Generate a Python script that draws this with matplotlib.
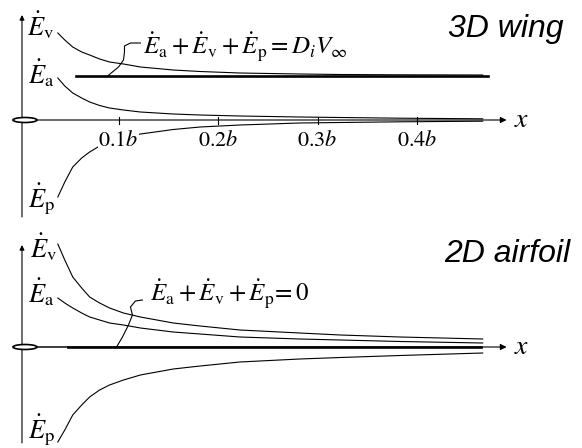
import matplotlib
matplotlib.use("Agg")
import matplotlib.pyplot as plt
from matplotlib.patches import Ellipse

plt.rcParams['mathtext.fontset'] = 'stix'
plt.rcParams['font.family'] = 'Liberation Serif'

# distance behind the wing, in units of span b
x_b = [0.039, 0.046, 0.054, 0.063, 0.071, 0.081, 0.091, 0.105, 0.122,
       0.155, 0.182, 0.222, 0.282, 0.323, 0.383, 0.466]

# 3D wing (arbitrary energy-flux units)
wing_Ev = [0.87, 0.80, 0.73, 0.68, 0.65, 0.61, 0.58, 0.56, 0.53,
           0.50, 0.485, 0.47, 0.46, 0.455, 0.452, 0.45]
wing_Ea = [0.42, 0.34, 0.27, 0.22, 0.18, 0.145, 0.12, 0.10, 0.08,
           0.06, 0.05, 0.04, 0.03, 0.025, 0.018, 0.012]
wing_Ep = [-0.77, -0.62, -0.47, -0.38, -0.32, -0.26, -0.22, -0.18, -0.14,
           -0.095, -0.07, -0.05, -0.03, -0.025, -0.018, -0.012]
wing_sum = 0.445
wing_sum_x = [0.057, 0.471]

# 2D airfoil
foil_Ev = [1.03, 0.87, 0.70, 0.59, 0.50, 0.44, 0.39, 0.34, 0.30,
           0.24, 0.21, 0.17, 0.14, 0.12, 0.10, 0.08]
foil_Ea = [0.49, 0.44, 0.39, 0.34, 0.30, 0.27, 0.24, 0.22, 0.19,
           0.15, 0.13, 0.10, 0.08, 0.07, 0.055, 0.04]
foil_Ep = [-0.95, -0.83, -0.68, -0.58, -0.50, -0.43, -0.38, -0.33, -0.28,
           -0.22, -0.19, -0.15, -0.12, -0.105, -0.085, -0.06]
foil_sum = 0.0
foil_sum_x = [0.049, 0.464]

tick_vals = [0.1, 0.2, 0.3, 0.4]
tick_labels = ['$0.1b$', '$0.2b$', '$0.3b$', '$0.4b$']

# leader lines from the equation label to the sum line
lead_wing_x = [0.122, 0.112, 0.106, 0.106, 0.105, 0.100, 0.089]
lead_wing_y = [0.77, 0.77, 0.74, 0.68, 0.60, 0.53, 0.44]
lead_foil_x = [0.124, 0.117, 0.112, 0.114, 0.110, 0.104, 0.098]
lead_foil_y = [0.47, 0.46, 0.40, 0.32, 0.22, 0.10, 0.0]

fig = plt.figure(figsize=(5.82, 4.48), dpi=100)
ax1 = fig.add_axes([0, 0.5, 1, 0.5])
ax2 = fig.add_axes([0, 0, 1, 0.5])
ax1.set_xlim(-0.0191, 0.5658)
ax1.set_ylim(-1.04, 1.20)
ax2.set_xlim(-0.0191, 0.5658)
ax2.set_ylim(-1.01, 1.23)

x0 = 0.003
lab = dict(fontsize=19, ha='left', va='baseline')
eq = dict(fontsize=18, ha='left', va='baseline')


def frame(ax, ytop, ybot):
    ax.axis('off')
    # x axis with arrow
    ax.annotate('', xy=(0.49, 0), xytext=(-0.006, 0),
                arrowprops=dict(arrowstyle='-|>', lw=0.8, color='k',
                                mutation_scale=9, shrinkA=0, shrinkB=0))
    # y axis with arrow
    ax.annotate('', xy=(x0, ytop), xytext=(x0, ybot),
                arrowprops=dict(arrowstyle='-|>', lw=0.8, color='k',
                                mutation_scale=7, shrinkA=0, shrinkB=0))
    ax.add_patch(Ellipse((0.006, 0), 0.024, 0.05, facecolor='white',
                         edgecolor='k', lw=1.2, zorder=5))
    ax.text(0.505, 0, '$x$', fontsize=20, ha='center', va='center')


frame(ax1, 1.05, -0.97)
frame(ax2, 1.02, -0.96)

# --- 3D wing ---
ax1.plot(x_b, wing_Ev, color='k', lw=0.8)
ax1.plot(x_b, wing_Ea, color='k', lw=0.8)
ax1.plot(x_b, wing_Ep, color='k', lw=0.8)
ax1.plot(wing_sum_x, [wing_sum, wing_sum], color='k', lw=1.9)
ax1.plot(lead_wing_x, lead_wing_y, color='k', lw=0.8)
for t, s in zip(tick_vals, tick_labels):
    ax1.plot([t, t], [-0.035, 0.035], color='k', lw=0.8)
    ax1.text(t, -0.21, s, fontsize=16, ha='center', va='center', zorder=4,
             bbox=dict(facecolor='white', edgecolor='none', pad=0.5))
ax1.text(0.008, 0.85, r'$\dot{E}_{\mathrm{v}}$', **lab)
ax1.text(0.009, 0.37, r'$\dot{E}_{\mathrm{a}}$', **lab)
ax1.text(0.009, -0.87, r'$\dot{E}_{\mathrm{p}}$', **lab)
ax1.text(0.125, 0.65,
         r'$\dot{E}_{\mathrm{a}}+\dot{E}_{\mathrm{v}}+\dot{E}_{\mathrm{p}} = D_i V_\infty$',
         **eq)
ax1.text(0.547, 0.83, '3D wing', fontsize=23, family='Liberation Sans',
         style='italic', ha='right', va='baseline')

# --- 2D airfoil ---
ax2.plot(x_b, foil_Ev, color='k', lw=0.8)
ax2.plot(x_b, foil_Ea, color='k', lw=0.8)
ax2.plot(x_b, foil_Ep, color='k', lw=0.8)
ax2.plot([0.018, foil_sum_x[0]], [foil_sum, foil_sum], color='0.5', lw=1.2)
ax2.plot(foil_sum_x, [foil_sum, foil_sum], color='k', lw=1.9)
ax2.plot(lead_foil_x, lead_foil_y, color='k', lw=0.8)
ax2.text(0.011, 0.90, r'$\dot{E}_{\mathrm{v}}$', **lab)
ax2.text(0.009, 0.45, r'$\dot{E}_{\mathrm{a}}$', **lab)
ax2.text(0.009, -0.91, r'$\dot{E}_{\mathrm{p}}$', **lab)
ax2.text(0.132, 0.45,
         r'$\dot{E}_{\mathrm{a}}+\dot{E}_{\mathrm{v}}+\dot{E}_{\mathrm{p}}\!= 0$',
         **eq)
ax2.text(0.554, 0.85, '2D airfoil', fontsize=23, family='Liberation Sans',
         style='italic', ha='right', va='baseline')

fig.savefig('out.png', dpi=100)
